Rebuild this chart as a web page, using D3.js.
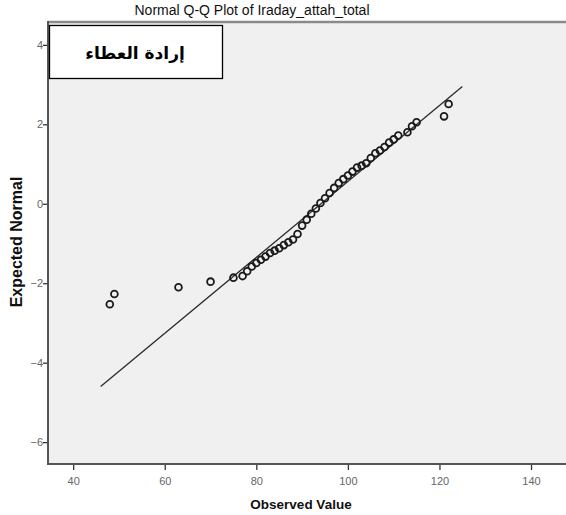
<!DOCTYPE html>
<html>
<head>
<meta charset="utf-8">
<script src="https://cdn.jsdelivr.net/npm/d3@7"></script>
<style>
  body { margin: 0; background: #fff; }
  text { font-family: "Liberation Sans", Arial, sans-serif; }
</style>
</head>
<body>
<div id="chart"></div>
<script>
var svgWidth = 566;
var svgHeight = 515;

// observed values and their expected normal scores
var observed = [48, 49, 63, 70, 75, 77, 78, 79, 80, 81, 82, 83, 84, 85, 86, 87, 88, 89,
  90, 91, 92, 93, 94, 95, 96, 97, 98, 99, 100, 101, 102, 103, 104, 105, 106, 107, 108,
  109, 110, 111, 113, 114, 115, 121, 122];
var expected = [-2.53, -2.27, -2.10, -1.96, -1.86, -1.82, -1.70, -1.58, -1.49, -1.41, -1.33,
  -1.24, -1.18, -1.12, -1.04, -0.97, -0.90, -0.76, -0.55, -0.40, -0.25, -0.12, 0.02, 0.14,
  0.27, 0.40, 0.52, 0.62, 0.71, 0.81, 0.91, 0.96, 1.02, 1.15, 1.27, 1.34, 1.43, 1.54, 1.62,
  1.72, 1.80, 1.95, 2.05, 2.20, 2.51];

// reference line end points
var lineX = [46, 125];
var lineY = [-4.6, 2.95];

var xTicks = [40, 60, 80, 100, 120, 140];
var yTicks = [4, 2, 0, -2, -4, -6];

var plot = { left: 48, top: 23, right: 564, bottom: 464 };

var svg = d3.select("#chart")
  .append("svg")
  .attr("width", svgWidth)
  .attr("height", svgHeight);

var x = d3.scaleLinear().domain([34.5, 147.2]).range([plot.left, plot.right]);
var y = d3.scaleLinear().domain([-6.55, 4.55]).range([plot.bottom, plot.top]);

// plot background
svg.append("rect")
  .attr("x", plot.left)
  .attr("y", plot.top)
  .attr("width", plot.right - plot.left + 2)
  .attr("height", plot.bottom - plot.top)
  .attr("fill", "#f0f0f0");

// top border
svg.append("line")
  .attr("x1", plot.left).attr("x2", svgWidth)
  .attr("y1", plot.top - 1).attr("y2", plot.top - 1)
  .attr("stroke", "#8a8a8a")
  .attr("stroke-width", 2.5);

// axes
var xAxis = svg.append("g")
  .attr("transform", `translate(0, ${plot.bottom})`)
  .call(d3.axisBottom(x).tickValues(xTicks).tickSize(6).tickSizeOuter(0));

var yAxis = svg.append("g")
  .attr("transform", `translate(${plot.left}, 0)`)
  .call(d3.axisLeft(y).tickValues(yTicks).tickSize(5).tickSizeOuter(0));

[xAxis, yAxis].forEach(function(ax) {
  ax.select(".domain").remove();
  ax.selectAll(".tick line").attr("stroke", "#333").attr("stroke-width", 1.3);
  ax.selectAll(".tick text")
    .attr("fill", "#666")
    .style("font-size", "11px")
    .style("font-family", "'Liberation Sans', Arial, sans-serif");
});
xAxis.selectAll(".tick text").attr("dy", "1.05em");
yAxis.selectAll(".tick text").attr("x", -5);

// frame lines for axes
svg.append("line")
  .attr("x1", plot.left).attr("x2", plot.left)
  .attr("y1", plot.top - 2).attr("y2", plot.bottom + 1)
  .attr("stroke", "#555").attr("stroke-width", 2);
svg.append("line")
  .attr("x1", plot.left - 1).attr("x2", svgWidth)
  .attr("y1", plot.bottom).attr("y2", plot.bottom)
  .attr("stroke", "#555").attr("stroke-width", 2);

// reference line
svg.append("line")
  .attr("x1", x(lineX[0])).attr("y1", y(lineY[0]))
  .attr("x2", x(lineX[1])).attr("y2", y(lineY[1]))
  .attr("stroke", "#2a2a2a")
  .attr("stroke-width", 1.3);

// points
svg.selectAll("circle.pt")
  .data(observed)
  .enter()
  .append("circle")
  .classed("pt", true)
  .attr("cx", d => x(d))
  .attr("cy", (d, i) => y(expected[i]))
  .attr("r", 3.4)
  .attr("fill", "none")
  .attr("stroke", "#1a1a1a")
  .attr("stroke-width", 1.8);

// label box
svg.append("rect")
  .attr("x", 49.5)
  .attr("y", 25.5)
  .attr("width", 173)
  .attr("height", 53)
  .attr("fill", "#fff")
  .attr("stroke", "#000")
  .attr("stroke-width", 1.3);

svg.append("text")
  .attr("x", 135)
  .attr("y", 59)
  .attr("text-anchor", "middle")
  .attr("direction", "rtl")
  .style("font-family", "'DejaVu Sans', sans-serif")
  .style("font-weight", "bold")
  .style("font-size", "17px")
  .attr("fill", "#000")
  .text("إرادة العطاء");

// title
svg.append("text")
  .attr("x", 252)
  .attr("y", 15)
  .attr("text-anchor", "middle")
  .style("font-size", "14px")
  .attr("fill", "#111")
  .text("Normal Q-Q Plot of Iraday_attah_total");

// axis titles
svg.append("text")
  .attr("x", 301)
  .attr("y", 509)
  .attr("text-anchor", "middle")
  .style("font-size", "13.5px")
  .style("font-weight", "bold")
  .attr("fill", "#111")
  .text("Observed Value");

svg.append("text")
  .attr("transform", "translate(22, 242) rotate(-90)")
  .attr("text-anchor", "middle")
  .style("font-size", "16px")
  .style("font-weight", "bold")
  .attr("fill", "#111")
  .text("Expected Normal");
</script>
</body>
</html>
